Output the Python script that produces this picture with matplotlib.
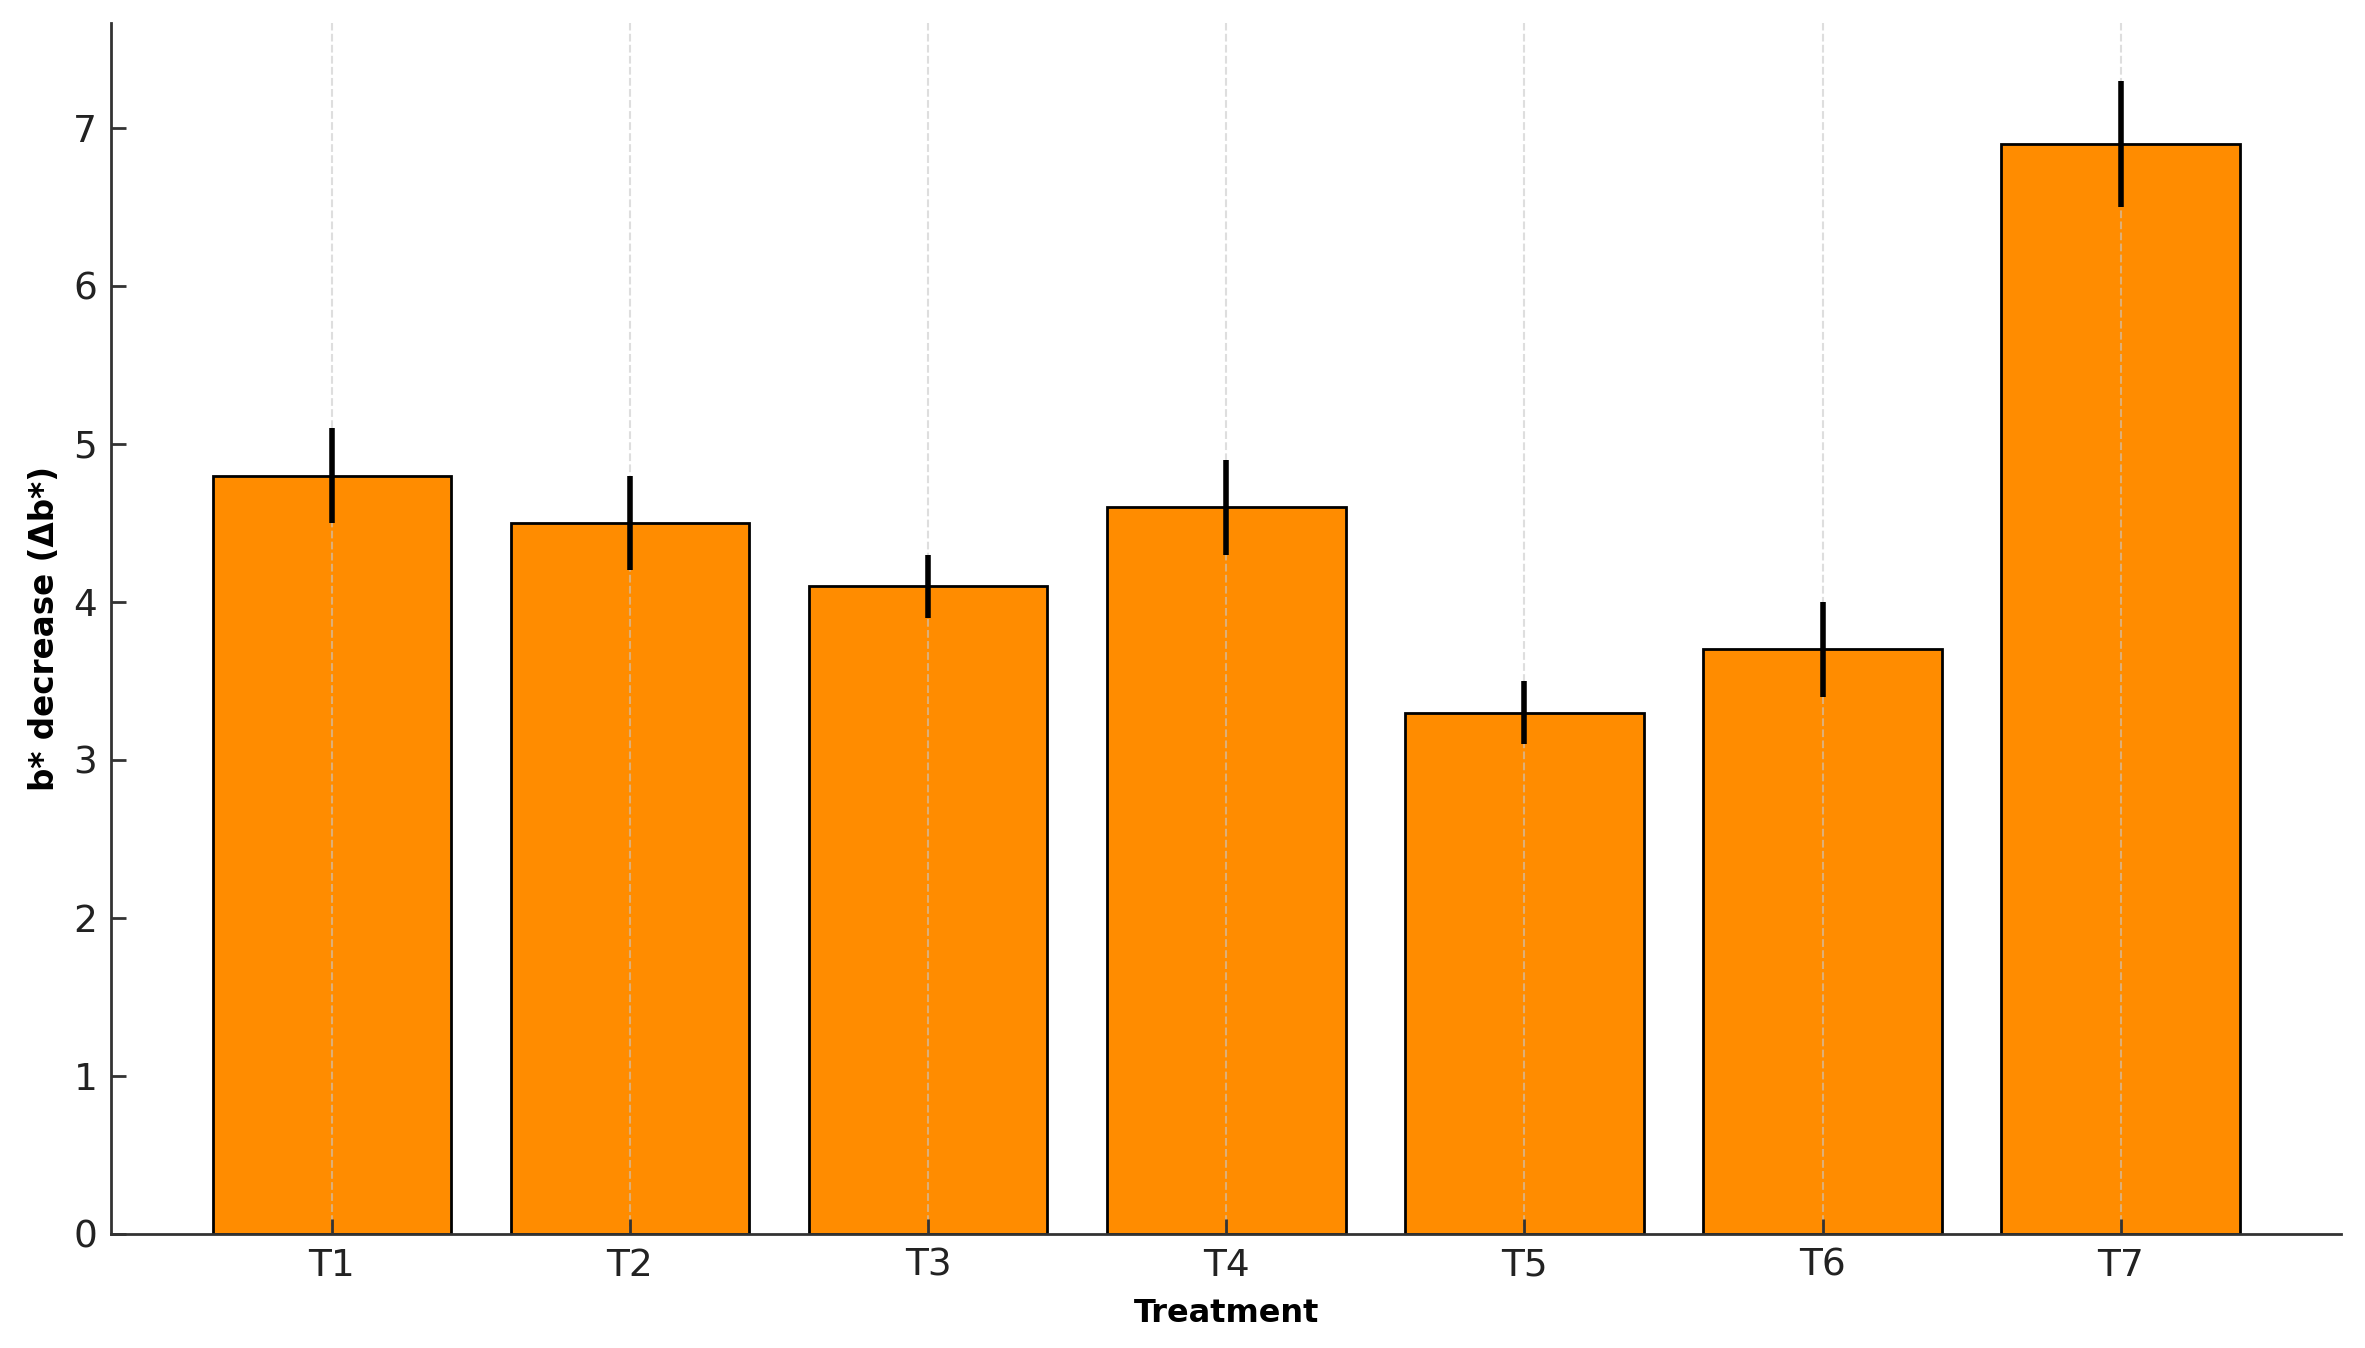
import matplotlib
matplotlib.use('Agg')
import matplotlib.pyplot as plt
import numpy as np

# values
treatments = ['T1', 'T2', 'T3', 'T4', 'T5', 'T6', 'T7']
delta_b = [4.8, 4.5, 4.1, 4.6, 3.3, 3.7, 6.9]
errors = [0.3, 0.3, 0.2, 0.3, 0.2, 0.3, 0.4]

fig = plt.figure(figsize=(23.65, 13.48), dpi=100)
ax = fig.add_axes([0.047, 0.0846, 0.943, 0.8984])

x = np.arange(len(treatments))
ax.bar(x, delta_b, width=0.8, color='#FF8C00', edgecolor='black', linewidth=2,
       yerr=errors, error_kw=dict(ecolor='black', elinewidth=4, capsize=0))

ax.set_xticks(x)
ax.set_xticklabels(treatments)
ax.set_xlabel('Treatment', fontsize=23, fontweight='bold', labelpad=10)
ax.set_ylabel('b* decrease (\u0394b*)', fontsize=23.5, fontweight='bold', labelpad=9)

# dashed vertical grid only, semi transparent so it shows pale on the bars
ax.grid(axis='x', linestyle='--', color='#c8c8c8', alpha=0.6, linewidth=1.5)

for side in ['top', 'right']:
    ax.spines[side].set_visible(False)
for side in ['left', 'bottom']:
    ax.spines[side].set_color('#333333')
    ax.spines[side].set_linewidth(2)

ax.tick_params(direction='in', length=11, width=2, color='#333333',
               labelsize=27, labelcolor='#222222', pad=10)

fig.savefig('out.png', dpi=100)
